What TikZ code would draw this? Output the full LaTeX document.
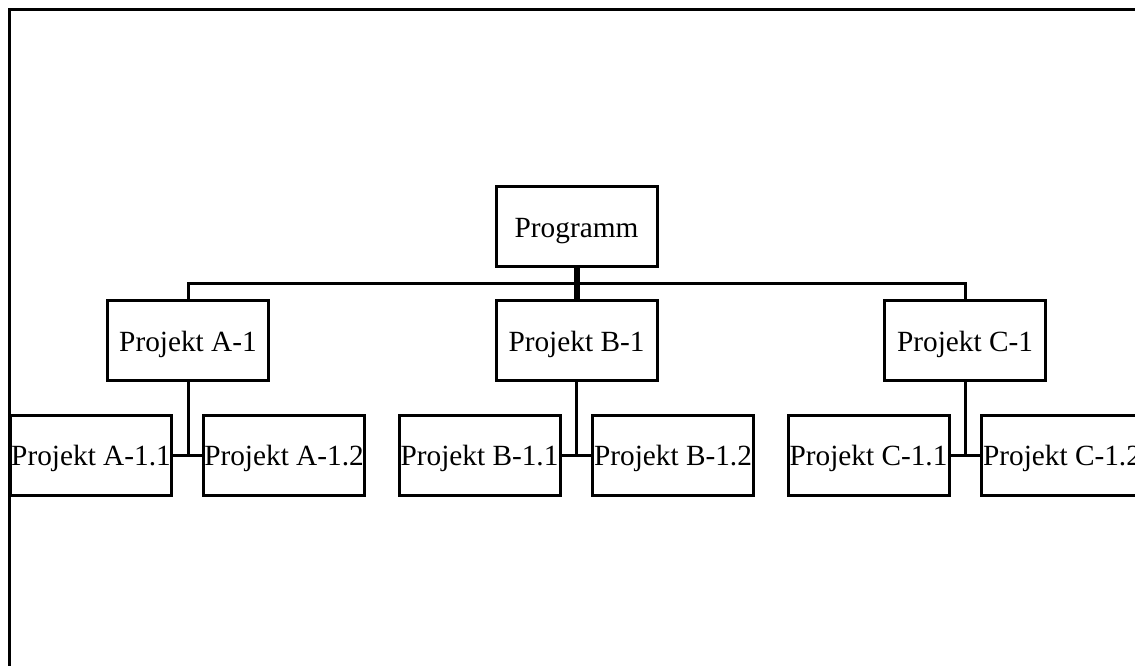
\documentclass[tikz,border=0pt]{standalone}
\usepackage{fontspec}
\setmainfont{Liberation Serif}
\begin{document}
\begin{tikzpicture}[x=1pt,y=-1pt,
  box/.style={draw, line width=3pt, minimum width=161pt, minimum height=80pt,
    inner sep=0pt, text height=21pt, text depth=0pt,
    font=\fontsize{29.3}{31}\selectfont},
  link/.style={line width=3pt},
  stem/.style={line width=6pt}]
\useasboundingbox (0,0) rectangle (1135,666);
\clip (0,0) rectangle (1135,666);
\fill[white] (0,0) rectangle (1135,666);
% outer frame, running off the right and bottom edges
\draw[line width=3pt] (9.5,10) rectangle (1160,690);

% root
\node[box] (prog) at (576.5,226.5) {Programm};

% projects
\node[box] (a) at (188,340.5) {Projekt A-1};
\node[box] (b) at (576.5,340.5) {Projekt B-1};
\node[box] (c) at (965,340.5) {Projekt C-1};

% sub-projects
\node[box] (a1) at (91,455) {Projekt A-1.1};
\node[box] (a2) at (284,455) {Projekt A-1.2};
\node[box] (b1) at (479.5,455) {Projekt B-1.1};
\node[box] (b2) at (673,455) {Projekt B-1.2};
\node[box] (c1) at (868.5,455) {Projekt C-1.1};
\node[box] (c2) at (1062,455) {Projekt C-1.2};

% bus from the root to the projects
\coordinate (bus) at (576.5,283);
\draw[link] (a.north) |- (bus) -| (c.north);
\draw[stem] (prog.south) -- (b.north);

% project to sub-project links
\foreach \p/\l/\r in {a/a1/a2, b/b1/b2, c/c1/c2}{
  \draw[link] (\p.south) -- (\p.south |- \l.east);
  \draw[link] (\l.east) -- (\r.west);
}
\end{tikzpicture}
\end{document}
